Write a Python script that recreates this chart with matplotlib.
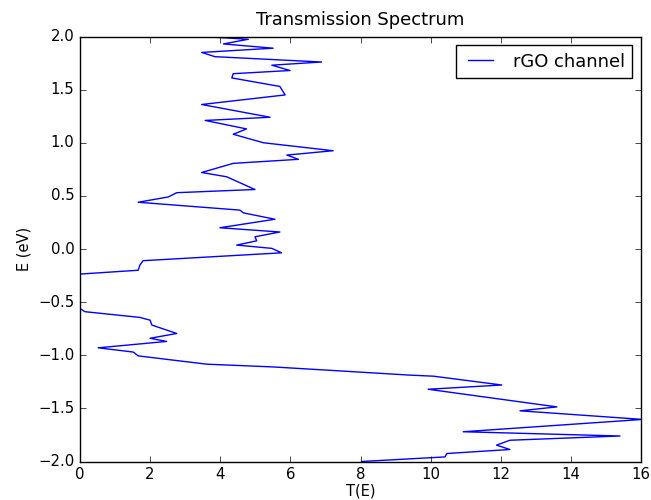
import matplotlib
matplotlib.use('Agg')
import matplotlib.pyplot as plt

# transmission T(E), from E = 2 down to E = -2
T = [3.47, 4.80, 4.09, 5.51, 3.47, 3.85, 6.89, 5.47, 5.99, 4.37, 4.33, 5.70, 5.85,
     3.47, 5.42, 3.57, 4.75, 4.37, 5.23, 7.22, 5.90, 6.23, 4.37, 3.47, 4.18, 4.99,
     2.76, 2.52, 1.66, 4.56, 4.66, 5.56, 3.99, 5.70, 4.99, 5.04, 4.47, 5.47, 5.75,
     1.80, 1.71, 1.66, 0.0, 0.0, 0.14, 1.71, 2.00, 2.05, 2.76, 2.00, 2.47, 0.52,
     1.52, 1.66, 3.61, 5.51, 7.04, 9.41, 10.08, 12.03, 9.93, 13.60, 12.55, 16.05,
     10.93, 15.40, 12.26, 11.88, 12.26, 10.46, 10.41, 8.03]
E = [2.00, 1.974, 1.93, 1.89, 1.85, 1.81, 1.76, 1.73, 1.68, 1.65, 1.61, 1.53, 1.45,
     1.36, 1.24, 1.21, 1.13, 1.08, 1.00, 0.925, 0.884, 0.844, 0.806, 0.72, 0.68, 0.56,
     0.53, 0.49, 0.44, 0.366, 0.34, 0.28, 0.20, 0.16, 0.115, 0.077, 0.037, 0.006, -0.036,
     -0.11, -0.15, -0.20, -0.236, -0.56, -0.59, -0.644, -0.67, -0.716, -0.795, -0.84, -0.87, -0.93,
     -0.97, -1.006, -1.084, -1.11, -1.14, -1.187, -1.197, -1.28, -1.32, -1.486, -1.523, -1.604,
     -1.72, -1.76, -1.80, -1.846, -1.887, -1.925, -1.957, -2.0]

plt.style.use('classic')
plt.rcParams['font.size'] = 10.75
plt.rcParams['figure.facecolor'] = 'white'
plt.rcParams['savefig.facecolor'] = 'white'

fig = plt.figure(figsize=(6.51, 5.0), dpi=100)
ax = fig.add_axes([80 / 651, 1 - 461.5 / 500, 561 / 651, 425 / 500])

ax.plot(T, E, color='b', lw=1, label='rGO channel')
ax.set_xlim(0, 16)
ax.set_ylim(-2, 2)
ax.set_xlabel('T(E)', fontsize=10.5, labelpad=1)
ax.set_ylabel('E (eV)', fontsize=10.5)
ax.set_title('Transmission Spectrum', pad=8)
ax.legend(loc='upper right')

fig.savefig('out.png', dpi=100)
